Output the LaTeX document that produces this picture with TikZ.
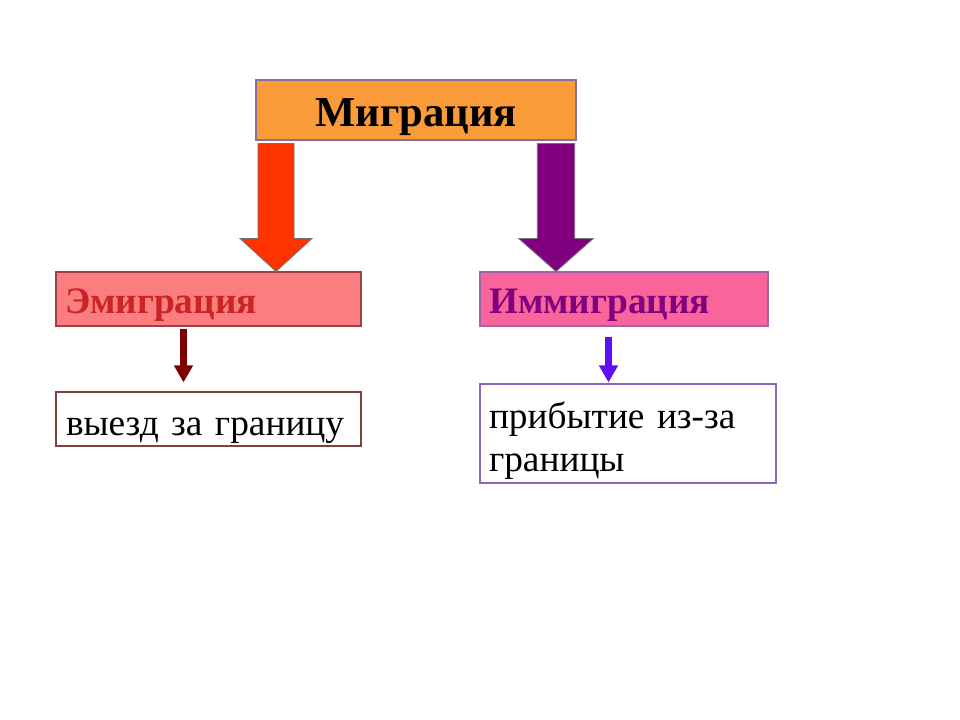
\documentclass[tikz,border=0pt]{standalone}
\usepackage{fontspec}
\setmainfont{Liberation Serif}
\usetikzlibrary{calc,arrows.meta}
\definecolor{topF}{HTML}{F99B38}
\definecolor{topB}{HTML}{86709A}
\definecolor{emiF}{HTML}{FA7D7F}
\definecolor{emiT}{HTML}{CC2424}
\definecolor{emiB}{HTML}{A0404A}
\definecolor{immF}{HTML}{F9659A}
\definecolor{immT}{HTML}{800080}
\definecolor{immB}{HTML}{9966AA}
\definecolor{vyeB}{HTML}{804040}
\definecolor{priB}{HTML}{8866BB}
\definecolor{redA}{HTML}{FF3300}
\definecolor{purA}{HTML}{800080}
\definecolor{smA}{HTML}{800000}
\definecolor{smB}{HTML}{6010F0}
\begin{document}
\begin{tikzpicture}[x=0.75pt,y=-0.75pt,
  box/.style={draw, line width=0.8pt, inner ysep=0pt, text depth=0pt},
  lbox/.style={box, inner xsep=6.75pt, align=left},
  bigtxt/.style={font=\fontsize{32}{38}\selectfont\bfseries},
  midbold/.style={font=\fontsize{28}{32.25}\selectfont\bfseries},
  midtxt/.style={font=\fontsize{28}{32.25}\selectfont},
  blockarrow/.style={draw=black!55, line width=0.6pt},
  smallarrow/.style={line width=5.25pt, -{Triangle[width=13.5pt,length=12.75pt]}}]
\useasboundingbox (0,0) rectangle (960,720);
\fill[white] (0,0) rectangle (960,720);

\node[box, bigtxt, fill=topF, draw=topB, minimum width=240pt, minimum height=45pt,
      text height=25.5pt] (top) at (416,110) {Миграция};

\node[lbox, midbold, fill=emiF, draw=emiB, text=emiT, text width=215.25pt,
      minimum height=40.5pt, text height=21pt] (emi) at (208.5,299) {Эмиграция};

\node[lbox, midbold, fill=immF, draw=immB, text=immT, text width=202.5pt,
      minimum height=40.5pt, text height=21pt] (imm) at (624,299) {Иммиграция};

\node[lbox, midtxt, fill=white, draw=vyeB, inner xsep=7.5pt, text width=213.75pt,
      minimum height=40.5pt, text height=24pt] (vye) at (208.5,419) {выезд за границу};

\node[lbox, midtxt, fill=white, draw=priB, text width=208.5pt,
      minimum height=74.25pt, text height=24pt, text depth=32.25pt] (pri) at (628,433.5)
      {прибытие из-за\\границы};

% block arrows
\coordinate (rx) at (276,0);
\coordinate (px) at (556,0);
\filldraw[blockarrow, fill=redA] let \p1=(top.south -| rx), \p2=(emi.north -| rx) in
  (\x1-13.5pt,\y1-2.25pt) -- (\x1+13.5pt,\y1-2.25pt) -- (\x1+13.5pt,\y2+24.75pt)
  -- (\x1+27pt,\y2+24.75pt) -- (\x2,\y2) -- (\x1-27pt,\y2+24.75pt)
  -- (\x1-13.5pt,\y2+24.75pt) -- cycle;
\filldraw[blockarrow, fill=purA] let \p1=(top.south -| px), \p2=(imm.north -| px) in
  (\x1-14pt,\y1-2.25pt) -- (\x1+14pt,\y1-2.25pt) -- (\x1+14pt,\y2+24.75pt)
  -- (\x1+28pt,\y2+24.75pt) -- (\x2,\y2) -- (\x1-28pt,\y2+24.75pt)
  -- (\x1-14pt,\y2+24.75pt) -- cycle;

% small arrows
\coordinate (ax1) at (183.5,0);
\coordinate (ax2) at (608.5,0);
\draw[smallarrow, draw=smA, fill=smA, shorten <=1.5pt, shorten >=6.75pt]
  (emi.south -| ax1) -- (vye.north -| ax1);
\draw[smallarrow, draw=smB, fill=smB, shorten <=7.5pt, shorten >=0.75pt]
  (imm.south -| ax2) -- (pri.north -| ax2);
\end{tikzpicture}
\end{document}
